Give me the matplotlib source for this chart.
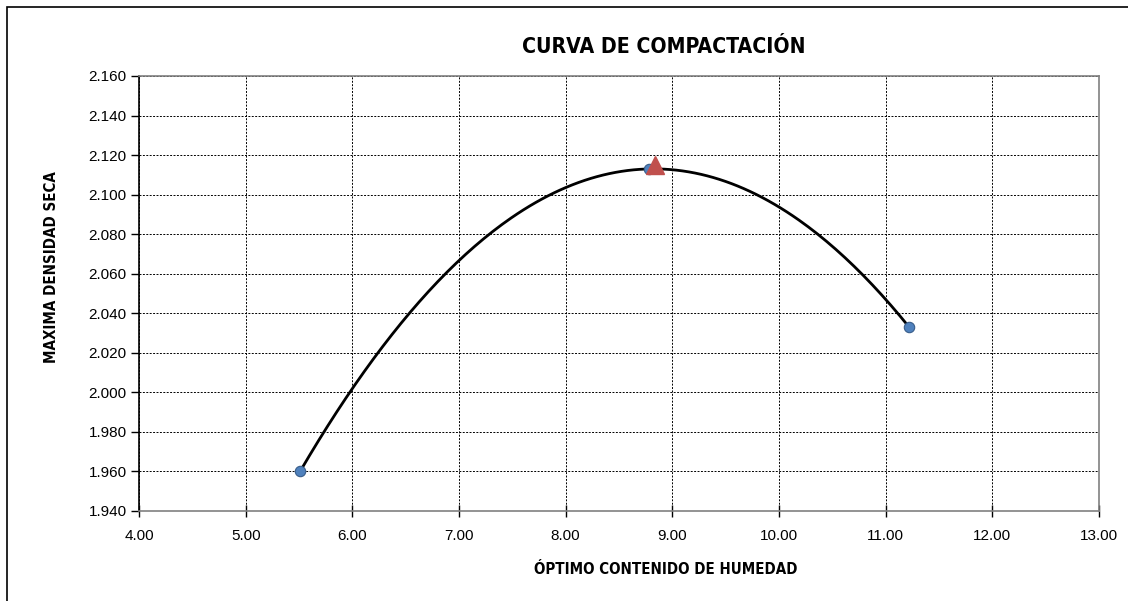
import numpy as np
import matplotlib.pyplot as plt
from matplotlib.patches import Rectangle
from matplotlib import font_manager

# Ensayo Proctor: humedad (%) y densidad seca (g/cm3)
humedad = [5.51, 8.78, 11.22]
densidad = [1.960, 2.113, 2.033]

# punto óptimo
optimo_humedad = [8.84]
optimo_densidad = [2.115]

x_ticks = [4, 5, 6, 7, 8, 9, 10, 11, 12, 13]
y_ticks = [1.94, 1.96, 1.98, 2.00, 2.02, 2.04, 2.06, 2.08, 2.10, 2.12, 2.14, 2.16]

# fuente angosta en negrita para títulos, si hay alguna
angosta = None
for clave in ['LiberationSansNarrow-Bold', 'DejaVuSansCondensed-Bold', 'RobotoCondensed-Bold',
              'OpenSans_Condensed-Bold', 'OpenSansCondensed-Bold']:
    for f in font_manager.fontManager.ttflist:
        if clave.lower() in f.fname.lower().replace(' ', ''):
            angosta = f.fname
            break
    if angosta:
        break
if angosta:
    fp_titulo = font_manager.FontProperties(fname=angosta, size=15.2)
    fp_eje = font_manager.FontProperties(fname=angosta, size=10.8)
else:
    fp_titulo = font_manager.FontProperties(family='Liberation Sans', weight='bold', size=15)
    fp_eje = font_manager.FontProperties(family='Liberation Sans', weight='bold', size=10.5)

fig = plt.figure(figsize=(11.28, 6.01), dpi=100)
ax = fig.add_axes([139/1128, 1 - 511/601, (1099-139)/1128, (511-76)/601])

# marco exterior del gráfico
fig.patches.append(Rectangle((7/1128, -0.1), 1.2, 1 - 7/601 + 0.1, transform=fig.transFigure,
                             fill=False, edgecolor='black', linewidth=1.2))

# curva de ajuste (polinomio de 2do grado)
coef = np.polyfit(humedad, densidad, 2)
xs = np.linspace(min(humedad), max(humedad), 200)
ax.plot(xs, np.polyval(coef, xs), color='black', linewidth=2.0, zorder=3)

ax.plot(humedad, densidad, 'o', color='#4F81BD', markeredgecolor='#385D8A',
        markersize=7.5, markeredgewidth=0.8, zorder=4)
ax.plot(optimo_humedad, optimo_densidad, '^', color='#C0504D', markeredgecolor='#C0504D',
        markersize=13, zorder=5)

ax.set_xlim(4, 13)
ax.set_ylim(1.94, 2.16)
ax.set_xticks(x_ticks)
ax.set_yticks(y_ticks)
ax.set_xticklabels([f'{v:.2f}' for v in x_ticks], fontsize=11, family='Liberation Sans')
ax.set_yticklabels([f'{v:.3f}' for v in y_ticks], fontsize=11, family='Liberation Sans')

ax.grid(True, color='black', linestyle=(0, (2, 1.5)), linewidth=0.7)
ax.tick_params(axis='y', direction='out', length=6, width=1, pad=3)
ax.tick_params(axis='x', direction='inout', length=8, width=1, pad=9)

ax.spines['left'].set_color('black')
ax.spines['left'].set_linewidth(1.2)
for lado in ['top', 'right', 'bottom']:
    ax.spines[lado].set_color('#808080')
    ax.spines[lado].set_linewidth(1.2)

fig.text(664/1128, 1 - 47/601, 'CURVA DE COMPACTACIÓN', fontproperties=fp_titulo,
         ha='center', va='center')
fig.text(666/1128, 1 - 570/601, 'ÓPTIMO CONTENIDO DE HUMEDAD', fontproperties=fp_eje,
         ha='center', va='center')
fig.text(52/1128, 1 - 267/601, 'MAXIMA DENSIDAD SECA', fontproperties=fp_eje,
         ha='center', va='center', rotation=90)

fig.savefig('out.png', dpi=100)
